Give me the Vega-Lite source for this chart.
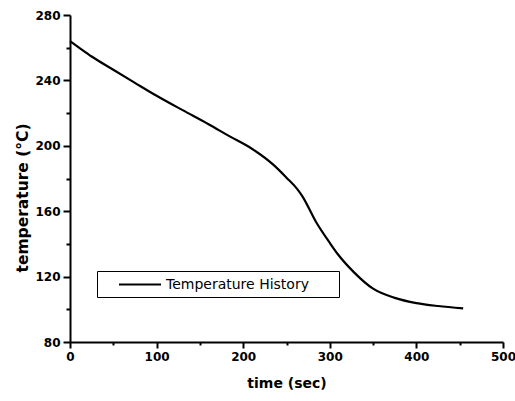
{
  "$schema": "https://vega.github.io/schema/vega-lite/v6.json",
  "autosize": "none",
  "width": 433,
  "height": 327,
  "padding": {"left": 70, "top": 15, "right": 12, "bottom": 59},
  "background": "white",
  "config": {
    "view": {"stroke": null},
    "font": "DejaVu Sans"
  },
  "data": {
    "values": [
      {"time": 0, "temperature": 264},
      {"time": 10, "temperature": 260.2},
      {"time": 25, "temperature": 254.6},
      {"time": 50, "temperature": 246.5},
      {"time": 75, "temperature": 238.5},
      {"time": 100, "temperature": 230.6},
      {"time": 130, "temperature": 221.8},
      {"time": 160, "temperature": 213.2},
      {"time": 185, "temperature": 205.6},
      {"time": 210, "temperature": 198.2},
      {"time": 235, "temperature": 188.3},
      {"time": 250, "temperature": 180.5},
      {"time": 262, "temperature": 173.8},
      {"time": 268, "temperature": 169.4},
      {"time": 285, "temperature": 152.6},
      {"time": 300, "temperature": 140.6},
      {"time": 310, "temperature": 133.2},
      {"time": 328, "temperature": 122.6},
      {"time": 350, "temperature": 112.6},
      {"time": 375, "temperature": 107},
      {"time": 400, "temperature": 103.8},
      {"time": 425, "temperature": 102},
      {"time": 454, "temperature": 100.6}
    ]
  },
  "mark": {"type": "line", "strokeWidth": 2.2, "interpolate": "monotone"},
  "encoding": {
    "x": {
      "field": "time",
      "type": "quantitative",
      "scale": {"domain": [0, 500], "nice": false, "zero": false},
      "axis": {
        "title": "time (sec)",
        "values": [0, 50, 100, 150, 200, 250, 300, 350, 400, 450, 500],
        "labelExpr": "datum.value % 100 === 0 ? datum.label : ''",
        "grid": false,
        "domainColor": "black",
        "domainWidth": 2,
        "tickColor": "black",
        "tickWidth": 2,
        "tickSize": {"condition": {"test": "datum.value % 100 === 0", "value": 6}, "value": 3},
        "labelFont": "DejaVu Sans",
        "labelFontWeight": "bold",
        "labelFontSize": 12,
        "labelColor": "black",
        "labelPadding": 3,
        "labelFlush": false,
        "labelOverlap": false,
        "titleFont": "DejaVu Sans",
        "titleFontWeight": "bold",
        "titleFontSize": 14,
        "titleColor": "black",
        "titleBaseline": "middle",
        "titleY": 41
      }
    },
    "y": {
      "field": "temperature",
      "type": "quantitative",
      "scale": {"domain": [80, 280], "nice": false, "zero": false},
      "axis": {
        "title": "temperature (°C)",
        "values": [80, 100, 120, 140, 160, 180, 200, 220, 240, 260, 280],
        "labelExpr": "datum.value % 40 === 0 ? datum.label : ''",
        "grid": false,
        "domainColor": "black",
        "domainWidth": 2,
        "tickColor": "black",
        "tickWidth": 2,
        "tickSize": {"condition": {"test": "datum.value % 40 === 0", "value": 7}, "value": 4},
        "labelFont": "DejaVu Sans",
        "labelFontWeight": "bold",
        "labelFontSize": 12,
        "labelColor": "black",
        "labelPadding": 3,
        "labelFlush": false,
        "labelOverlap": false,
        "titleFont": "DejaVu Sans",
        "titleFontWeight": "bold",
        "titleFontSize": 15.5,
        "titleColor": "black",
        "titleAngle": 270,
        "titleAlign": "center",
        "titleBaseline": "middle",
        "titleX": -48,
        "titleY": 182.5
      }
    },
    "color": {
      "datum": "Temperature History",
      "type": "nominal",
      "scale": {"range": ["black"]},
      "legend": {
        "title": null,
        "orient": "none",
        "legendX": 27,
        "legendY": 256,
        "strokeColor": "black",
        "fillColor": "white",
        "padding": 5,
        "symbolType": "M-3,0H3",
        "symbolSize": 196,
        "symbolStrokeWidth": 2.2,
        "symbolOffset": 29.5,
        "labelOffset": 17.5,
        "labelLimit": 400,
        "labelFont": "DejaVu Sans",
        "labelFontSize": 14,
        "labelColor": "black",
        "labelExpr": "datum.label + '\u2800 \u2800'"
      }
    }
  }
}
